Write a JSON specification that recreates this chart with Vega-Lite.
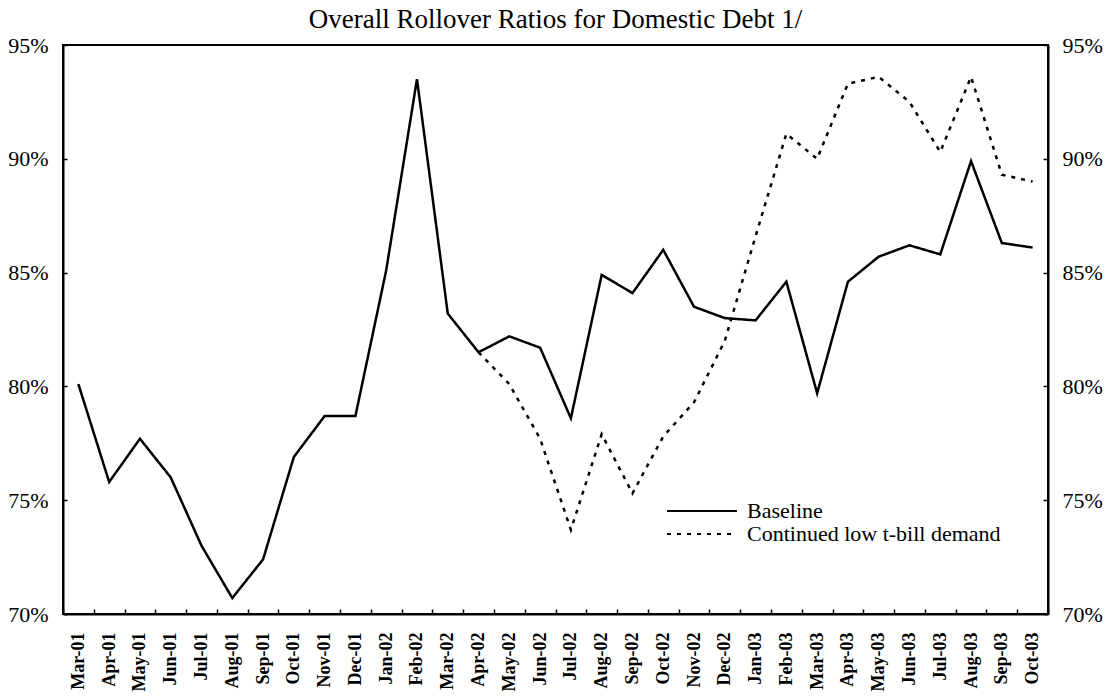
{
  "$schema": "https://vega.github.io/schema/vega-lite/v6.json",
  "width": 985,
  "height": 569,
  "autosize": {"type": "none"},
  "padding": {"left": 63, "top": 45, "right": 66, "bottom": 82},
  "background": "white",
  "title": {
    "text": "Overall Rollover Ratios for Domestic Debt 1/",
    "font": "Liberation Serif",
    "fontSize": 27,
    "fontWeight": "normal",
    "color": "black",
    "anchor": "middle",
    "offset": 0
  },
  "config": {
    "font": "Liberation Serif",
    "view": {"stroke": "black", "strokeWidth": 2},
    "axis": {
      "domainColor": "black",
      "domainWidth": 2,
      "tickColor": "black",
      "tickWidth": 1.5,
      "labelColor": "black",
      "labelFont": "Liberation Serif",
      "grid": false
    },
    "legend": {
      "labelFont": "Liberation Serif",
      "labelFontSize": 22,
      "labelColor": "black",
      "labelLimit": 0
    }
  },
  "data": {
    "values": [
      {"month": "Mar-01", "series": "Baseline", "value": 80.1},
      {"month": "Apr-01", "series": "Baseline", "value": 75.8},
      {"month": "May-01", "series": "Baseline", "value": 77.7},
      {"month": "Jun-01", "series": "Baseline", "value": 76.0},
      {"month": "Jul-01", "series": "Baseline", "value": 73.0},
      {"month": "Aug-01", "series": "Baseline", "value": 70.7},
      {"month": "Sep-01", "series": "Baseline", "value": 72.4},
      {"month": "Oct-01", "series": "Baseline", "value": 76.9},
      {"month": "Nov-01", "series": "Baseline", "value": 78.7},
      {"month": "Dec-01", "series": "Baseline", "value": 78.7},
      {"month": "Jan-02", "series": "Baseline", "value": 85.1},
      {"month": "Feb-02", "series": "Baseline", "value": 93.5},
      {"month": "Mar-02", "series": "Baseline", "value": 83.2},
      {"month": "Apr-02", "series": "Baseline", "value": 81.5},
      {"month": "May-02", "series": "Baseline", "value": 82.2},
      {"month": "Jun-02", "series": "Baseline", "value": 81.7},
      {"month": "Jul-02", "series": "Baseline", "value": 78.6},
      {"month": "Aug-02", "series": "Baseline", "value": 84.9},
      {"month": "Sep-02", "series": "Baseline", "value": 84.1},
      {"month": "Oct-02", "series": "Baseline", "value": 86.0},
      {"month": "Nov-02", "series": "Baseline", "value": 83.5},
      {"month": "Dec-02", "series": "Baseline", "value": 83.0},
      {"month": "Jan-03", "series": "Baseline", "value": 82.9},
      {"month": "Feb-03", "series": "Baseline", "value": 84.6},
      {"month": "Mar-03", "series": "Baseline", "value": 79.7},
      {"month": "Apr-03", "series": "Baseline", "value": 84.6},
      {"month": "May-03", "series": "Baseline", "value": 85.7},
      {"month": "Jun-03", "series": "Baseline", "value": 86.2},
      {"month": "Jul-03", "series": "Baseline", "value": 85.8},
      {"month": "Aug-03", "series": "Baseline", "value": 89.9},
      {"month": "Sep-03", "series": "Baseline", "value": 86.3},
      {"month": "Oct-03", "series": "Baseline", "value": 86.1},
      {"month": "Apr-02", "series": "Continued low t-bill demand", "value": 81.5},
      {"month": "May-02", "series": "Continued low t-bill demand", "value": 80.1},
      {"month": "Jun-02", "series": "Continued low t-bill demand", "value": 77.7},
      {"month": "Jul-02", "series": "Continued low t-bill demand", "value": 73.7},
      {"month": "Aug-02", "series": "Continued low t-bill demand", "value": 77.9},
      {"month": "Sep-02", "series": "Continued low t-bill demand", "value": 75.3},
      {"month": "Oct-02", "series": "Continued low t-bill demand", "value": 77.8},
      {"month": "Nov-02", "series": "Continued low t-bill demand", "value": 79.3},
      {"month": "Dec-02", "series": "Continued low t-bill demand", "value": 82.0},
      {"month": "Jan-03", "series": "Continued low t-bill demand", "value": 86.6},
      {"month": "Feb-03", "series": "Continued low t-bill demand", "value": 91.1},
      {"month": "Mar-03", "series": "Continued low t-bill demand", "value": 90.0},
      {"month": "Apr-03", "series": "Continued low t-bill demand", "value": 93.3},
      {"month": "May-03", "series": "Continued low t-bill demand", "value": 93.6},
      {"month": "Jun-03", "series": "Continued low t-bill demand", "value": 92.5},
      {"month": "Jul-03", "series": "Continued low t-bill demand", "value": 90.3},
      {"month": "Aug-03", "series": "Continued low t-bill demand", "value": 93.6},
      {"month": "Sep-03", "series": "Continued low t-bill demand", "value": 89.3},
      {"month": "Oct-03", "series": "Continued low t-bill demand", "value": 89.0}
    ]
  },
  "encoding": {
    "x": {
      "field": "month",
      "type": "ordinal",
      "sort": ["Mar-01","Apr-01","May-01","Jun-01","Jul-01","Aug-01","Sep-01","Oct-01","Nov-01","Dec-01","Jan-02","Feb-02","Mar-02","Apr-02","May-02","Jun-02","Jul-02","Aug-02","Sep-02","Oct-02","Nov-02","Dec-02","Jan-03","Feb-03","Mar-03","Apr-03","May-03","Jun-03","Jul-03","Aug-03","Sep-03","Oct-03"],
      "scale": {"type": "band", "paddingInner": 0, "paddingOuter": 0},
      "axis": {
        "title": null,
        "labelAngle": -90,
        "labelFontSize": 18,
        "labelFontWeight": "bold",
        "labelPadding": 23,
        "tickSize": -5,
        "tickBand": "extent"
      }
    }
  },
  "layer": [
    {
      "mark": {"type": "line", "color": "black", "strokeWidth": 2.5},
      "encoding": {
        "y": {
          "field": "value",
          "type": "quantitative",
          "scale": {"domain": [70, 95], "nice": false, "zero": false},
          "axis": {
            "title": null,
            "values": [70, 75, 80, 85, 90, 95],
            "labelExpr": "datum.value + '%'",
            "labelFontSize": 22,
            "labelPadding": 19,
            "tickSize": -4
          }
        },
        "strokeDash": {
          "field": "series",
          "type": "nominal",
          "scale": {
            "domain": ["Baseline", "Continued low t-bill demand"],
            "range": [[1, 0], [4, 6]]
          },
          "legend": {
            "title": null,
            "orient": "none",
            "legendX": 628,
            "legendY": 455,
            "symbolType": "M-5,0H5",
            "symbolSize": 196,
            "symbolStrokeWidth": 2,
            "symbolStrokeColor": "black",
            "labelOffset": 34,
            "labelLimit": 0,
            "rowPadding": 1
          }
        }
      }
    },
    {
      "mark": {"type": "line", "opacity": 0},
      "encoding": {
        "detail": {"field": "series"},
        "y": {
          "field": "value",
          "type": "quantitative",
          "scale": {"domain": [70, 95], "nice": false, "zero": false},
          "axis": {
            "title": null,
            "orient": "right",
            "values": [70, 75, 80, 85, 90, 95],
            "labelExpr": "datum.value + '%'",
            "labelFontSize": 22,
            "labelPadding": 19,
            "tickSize": -5
          }
        }
      }
    }
  ],
  "resolve": {"scale": {"y": "independent"}}
}
